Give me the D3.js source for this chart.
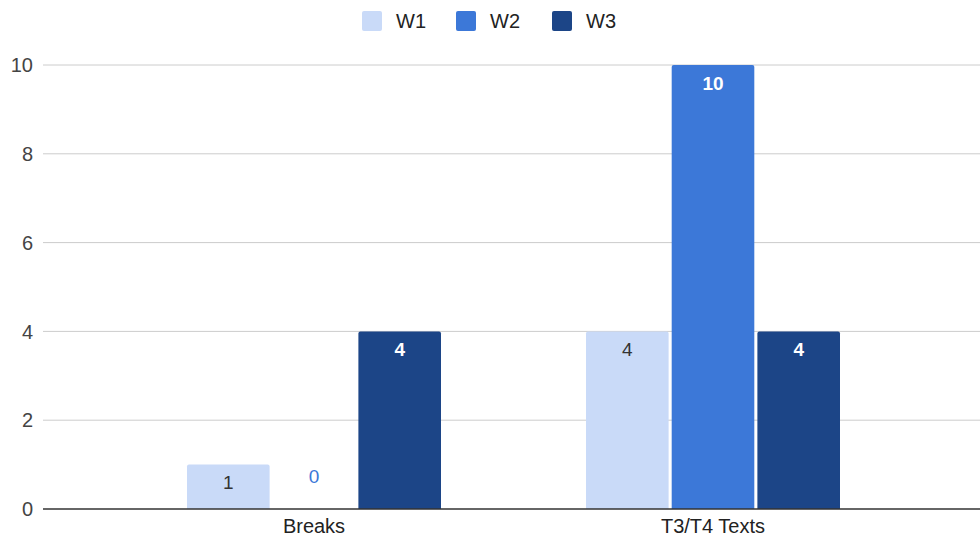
<!DOCTYPE html>
<html>
<head>
<meta charset="utf-8">
<script src="https://cdn.jsdelivr.net/npm/d3@7"></script>
<style>
  body { margin: 0; background: #fff; }
  text { font-family: "Liberation Sans", Arial, sans-serif; }
</style>
</head>
<body>
<svg id="chart"></svg>
<script>
const categories = ["Breaks", "T3/T4 Texts"];
const seriesNames = ["W1", "W2", "W3"];
const w1 = [1, 4];
const w2 = [0, 10];
const w3 = [4, 4];
const yTicks = [0, 2, 4, 6, 8, 10];
const colors = ["#c9daf8", "#3c78d8", "#1c4587"];
const labelColors = ["#333333", "#ffffff", "#ffffff"];

const width = 980, height = 537;
const svg = d3.select("#chart").attr("width", width).attr("height", height);

const rows = categories.map((c, i) => ({ cat: c, vals: [w1[i], w2[i], w3[i]] }));

const x = d3.scalePoint().domain(categories).range([114.5, 912.5]).padding(0.5);
const groupWidth = 254;
const xs = d3.scaleBand().domain(seriesNames).range([-groupWidth / 2, groupWidth / 2]).paddingInner(0.036);
const y = d3.scaleLinear().domain([0, 10]).range([509, 65]);

// gridlines
svg.append("g")
    .selectAll("line")
    .data(yTicks.filter(d => d !== 0))
    .join("line")
    .attr("x1", 43).attr("x2", width)
    .attr("y1", d => y(d)).attr("y2", d => y(d))
    .style("stroke", "#cccccc").style("stroke-width", 1);

// y tick labels
svg.append("g")
    .selectAll("text")
    .data(yTicks)
    .join("text")
    .attr("x", 33).attr("y", d => y(d))
    .attr("dy", "0.36em")
    .attr("text-anchor", "end")
    .style("font-size", "20px").style("fill", "#444")
    .text(d => d);

// bars
const groups = svg.append("g")
    .selectAll("g")
    .data(rows)
    .join("g")
    .attr("transform", d => `translate(${x(d.cat)},0)`);

groups.selectAll("path")
    .data(d => d.vals.map((v, i) => ({ v, i })))
    .join("path")
    .filter(d => d.v > 0)
    .attr("d", d => {
        const x0 = xs(seriesNames[d.i]), w = xs.bandwidth();
        const top = y(d.v), bot = y(0), r = 2;
        return `M${x0},${bot}V${top + r}Q${x0},${top} ${x0 + r},${top}H${x0 + w - r}Q${x0 + w},${top} ${x0 + w},${top + r}V${bot}Z`;
    })
    .style("fill", d => colors[d.i]);

groups.selectAll("text")
    .data(d => d.vals.map((v, i) => ({ v, i })))
    .join("text")
    .attr("x", d => xs(seriesNames[d.i]) + xs.bandwidth() / 2)
    .attr("y", d => d.v > 0 ? y(d.v) + 18 : y(0) - 33)
    .attr("dy", "0.36em")
    .attr("text-anchor", "middle")
    .style("font-size", "19px")
    .style("font-weight", d => d.i > 0 && d.v > 0 ? "bold" : "normal")
    .style("fill", d => d.v > 0 ? labelColors[d.i] : colors[d.i])
    .text(d => d.v);

// baseline
svg.append("line")
    .attr("x1", 43).attr("x2", width)
    .attr("y1", y(0)).attr("y2", y(0))
    .style("stroke", "#333").style("stroke-width", 1.3);

// category labels
svg.append("g")
    .selectAll("text")
    .data(categories)
    .join("text")
    .attr("x", d => x(d)).attr("y", 526)
    .attr("dy", "0.36em")
    .attr("text-anchor", "middle")
    .style("font-size", "20px").style("fill", "#222")
    .text(d => d);

// legend
const legendX = [362, 456, 552];
const legend = svg.append("g")
    .selectAll("g")
    .data(seriesNames)
    .join("g")
    .attr("transform", (d, i) => `translate(${legendX[i]},11)`);
legend.append("rect")
    .attr("width", 20).attr("height", 20).attr("rx", 2)
    .style("fill", (d, i) => colors[i]);
legend.append("text")
    .attr("x", 34).attr("y", 10).attr("dy", "0.36em")
    .style("font-size", "20px").style("fill", "#222")
    .text(d => d);
</script>
</body>
</html>
